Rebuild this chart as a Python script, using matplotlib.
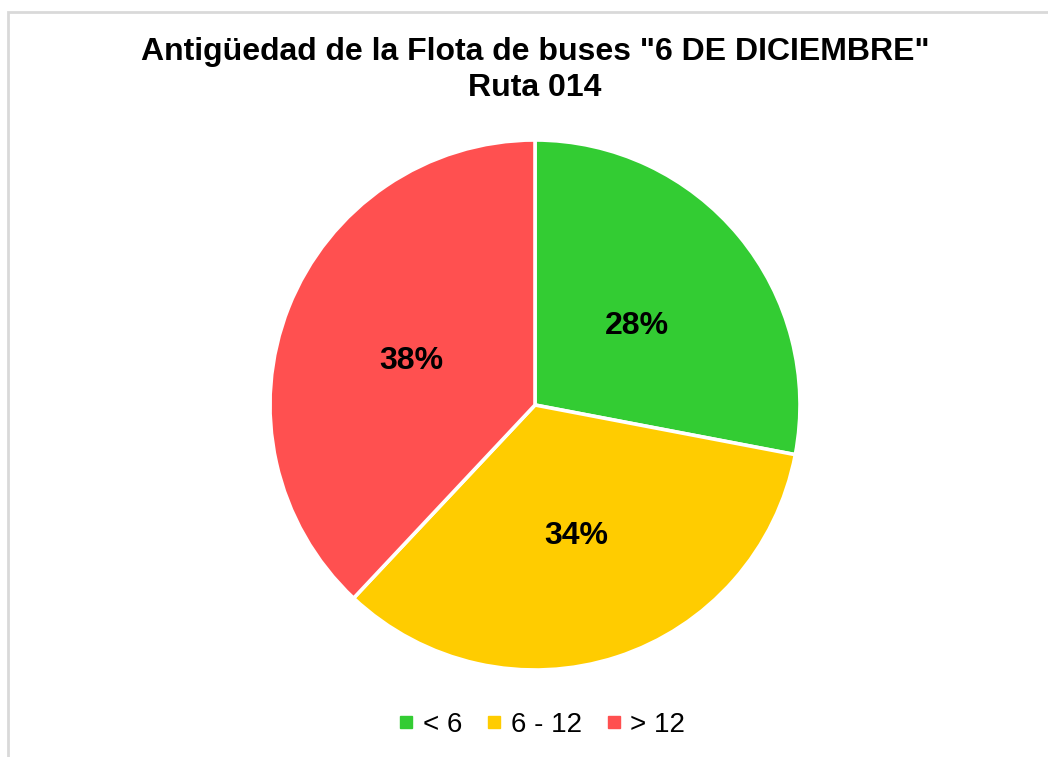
import matplotlib
matplotlib.use("Agg")
import matplotlib.pyplot as plt
from matplotlib.patches import Rectangle
from matplotlib.lines import Line2D

categories = ["< 6", "6 - 12", "> 12"]
values = [28, 34, 38]
colors = ["#33CC33", "#FFCC00", "#FF5050"]
title_text = 'Antigüedad de la Flota de buses "6 DE DICIEMBRE"\nRuta 014'

plt.rcParams['font.family'] = ['Liberation Sans', 'DejaVu Sans']

fig = plt.figure(figsize=(10.48, 7.57), dpi=100)
fig.patches.append(Rectangle((8/1048, -0.1), 1.2, 1 - 12/757 + 0.1, transform=fig.transFigure,
                             fill=False, edgecolor="#D9D9D9", linewidth=2))

W, H = 1048, 757
cx, cy, r = 535, 405, 265
ax = fig.add_axes([(cx - r)/W, (H - cy - r)/H, 2*r/W, 2*r/H])
wedges, texts = ax.pie(values, colors=colors, startangle=90, counterclock=False,
                       labels=[f"{v}%" for v in values], labeldistance=0.5,
                       wedgeprops=dict(edgecolor="white", linewidth=2.6),
                       textprops=dict(fontsize=23, fontweight="bold", color="black",
                                      ha="center", va="center"))
for t in texts:
    x, y = t.get_position()
    t.set_position((x, y - 5 / r))
ax.set_xlim(-1, 1); ax.set_ylim(-1, 1)
ax.set_aspect("equal")

fig.text(535/W, 1 - 70/H, title_text, ha="center", va="center", fontsize=23,
         fontweight="bold", linespacing=1.3)

handles = [Line2D([], [], marker="s", linestyle="none", markersize=8,
                  markerfacecolor=c, markeredgecolor=c) for c in colors]
fig.legend(handles, categories, loc="center", bbox_to_anchor=(542/W, 1 - 725/H),
           ncol=3, frameon=False, fontsize=20, handlelength=0.5, handletextpad=0.35,
           columnspacing=0.9)

fig.savefig("out.png", dpi=100)
